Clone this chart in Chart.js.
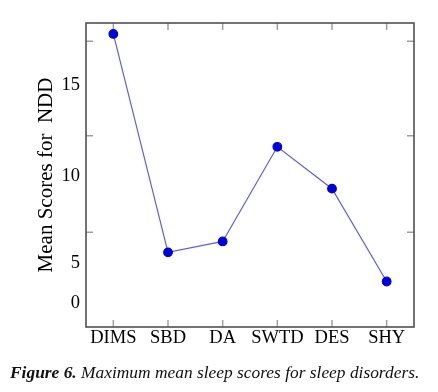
<!DOCTYPE html>
<html>
<head>
<meta charset="utf-8">
<script src="https://cdn.jsdelivr.net/npm/chart.js@4/dist/chart.umd.min.js"></script>
<style>
  html, body { margin: 0; padding: 0; background: #fff; }
  #wrap { position: relative; width: 438px; height: 392px; }
  #caption {
    position: absolute; left: 10px; top: 362px; white-space: nowrap;
    font-family: 'Liberation Serif', 'DejaVu Serif', serif;
    font-style: italic; font-size: 17.4px; color: #111;
  }
</style>
</head>
<body>
<div id="wrap">
  <canvas id="chart" width="438" height="392"></canvas>
  <div id="caption"><b>Figure 6.</b> Maximum mean sleep scores for sleep disorders.</div>
</div>
<script>
const disorders = ['DIMS', 'SBD', 'DA', 'SWTD', 'DES', 'SHY'];
const meanScores = [17.8, 5.8, 6.4, 11.6, 9.3, 4.2];
// the printed y labels sit off their tick marks in the original figure
const yTickLabels = ['15', '10', '5', '0'];
const yTickLabelAt = [15, 10, 5.2, 3.0];
const yTickMarks = [17.4, 12.2, 6.9];

const serif = "'Liberation Serif', 'DejaVu Serif', serif";

// frame and inward tick marks on all four sides
const framePlugin = {
  id: 'frame',
  beforeDatasetsDraw(chart) {
    const { ctx, chartArea: { left, right, top, bottom }, scales: { x, y } } = chart;
    ctx.save();
    ctx.strokeStyle = '#a0a0a0';
    ctx.lineWidth = 1.5;
    ctx.beginPath();
    disorders.forEach((_, i) => {
      const px = x.getPixelForValue(i);
      ctx.moveTo(px, top); ctx.lineTo(px, top + 7);
      ctx.moveTo(px, bottom); ctx.lineTo(px, bottom - 7);
    });
    yTickMarks.forEach(v => {
      const py = y.getPixelForValue(v);
      ctx.moveTo(left, py); ctx.lineTo(left + 7, py);
      ctx.moveTo(right, py); ctx.lineTo(right - 7, py);
    });
    ctx.stroke();
    ctx.strokeStyle = '#505050';
    ctx.lineWidth = 1.6;
    ctx.strokeRect(left, top, right - left, bottom - top);
    ctx.restore();
  }
};

new Chart(document.getElementById('chart'), {
  type: 'line',
  data: {
    labels: disorders,
    datasets: [{
      data: meanScores,
      borderColor: 'rgb(90, 90, 255)',
      borderWidth: 1.2,
      pointBackgroundColor: '#0000dd',
      pointBorderColor: '#0000dd',
      pointRadius: 4.3,
      tension: 0
    }]
  },
  options: {
    responsive: false,
    animation: false,
    layout: { padding: { left: 0, right: 24, top: 23, bottom: 35 } },
    plugins: { legend: { display: false }, tooltip: { enabled: false } },
    scales: {
      x: {
        offset: true,
        grid: { display: false, drawTicks: false },
        border: { display: false },
        ticks: { color: '#000', font: { family: serif, size: 18.5 }, padding: 0, maxRotation: 0, autoSkip: false },
        afterFit(scale) { scale.height = 30; }
      },
      y: {
        min: 1.7,
        max: 18.4,
        grid: { display: false, drawTicks: false },
        border: { display: false },
        afterBuildTicks(scale) { scale.ticks = yTickLabelAt.map(v => ({ value: v })); },
        ticks: {
          color: '#000',
          font: { family: serif, size: 18.5 },
          padding: 6,
          callback: (v, i) => yTickLabels[i]
        },
        title: {
          display: true,
          text: 'Mean Scores for  NDD',
          color: '#000',
          font: { family: serif, size: 21 },
          padding: { top: 34, bottom: 0 }
        },
        afterFit(scale) { scale.width = 86; }
      }
    }
  },
  plugins: [framePlugin]
});
</script>
</body>
</html>
